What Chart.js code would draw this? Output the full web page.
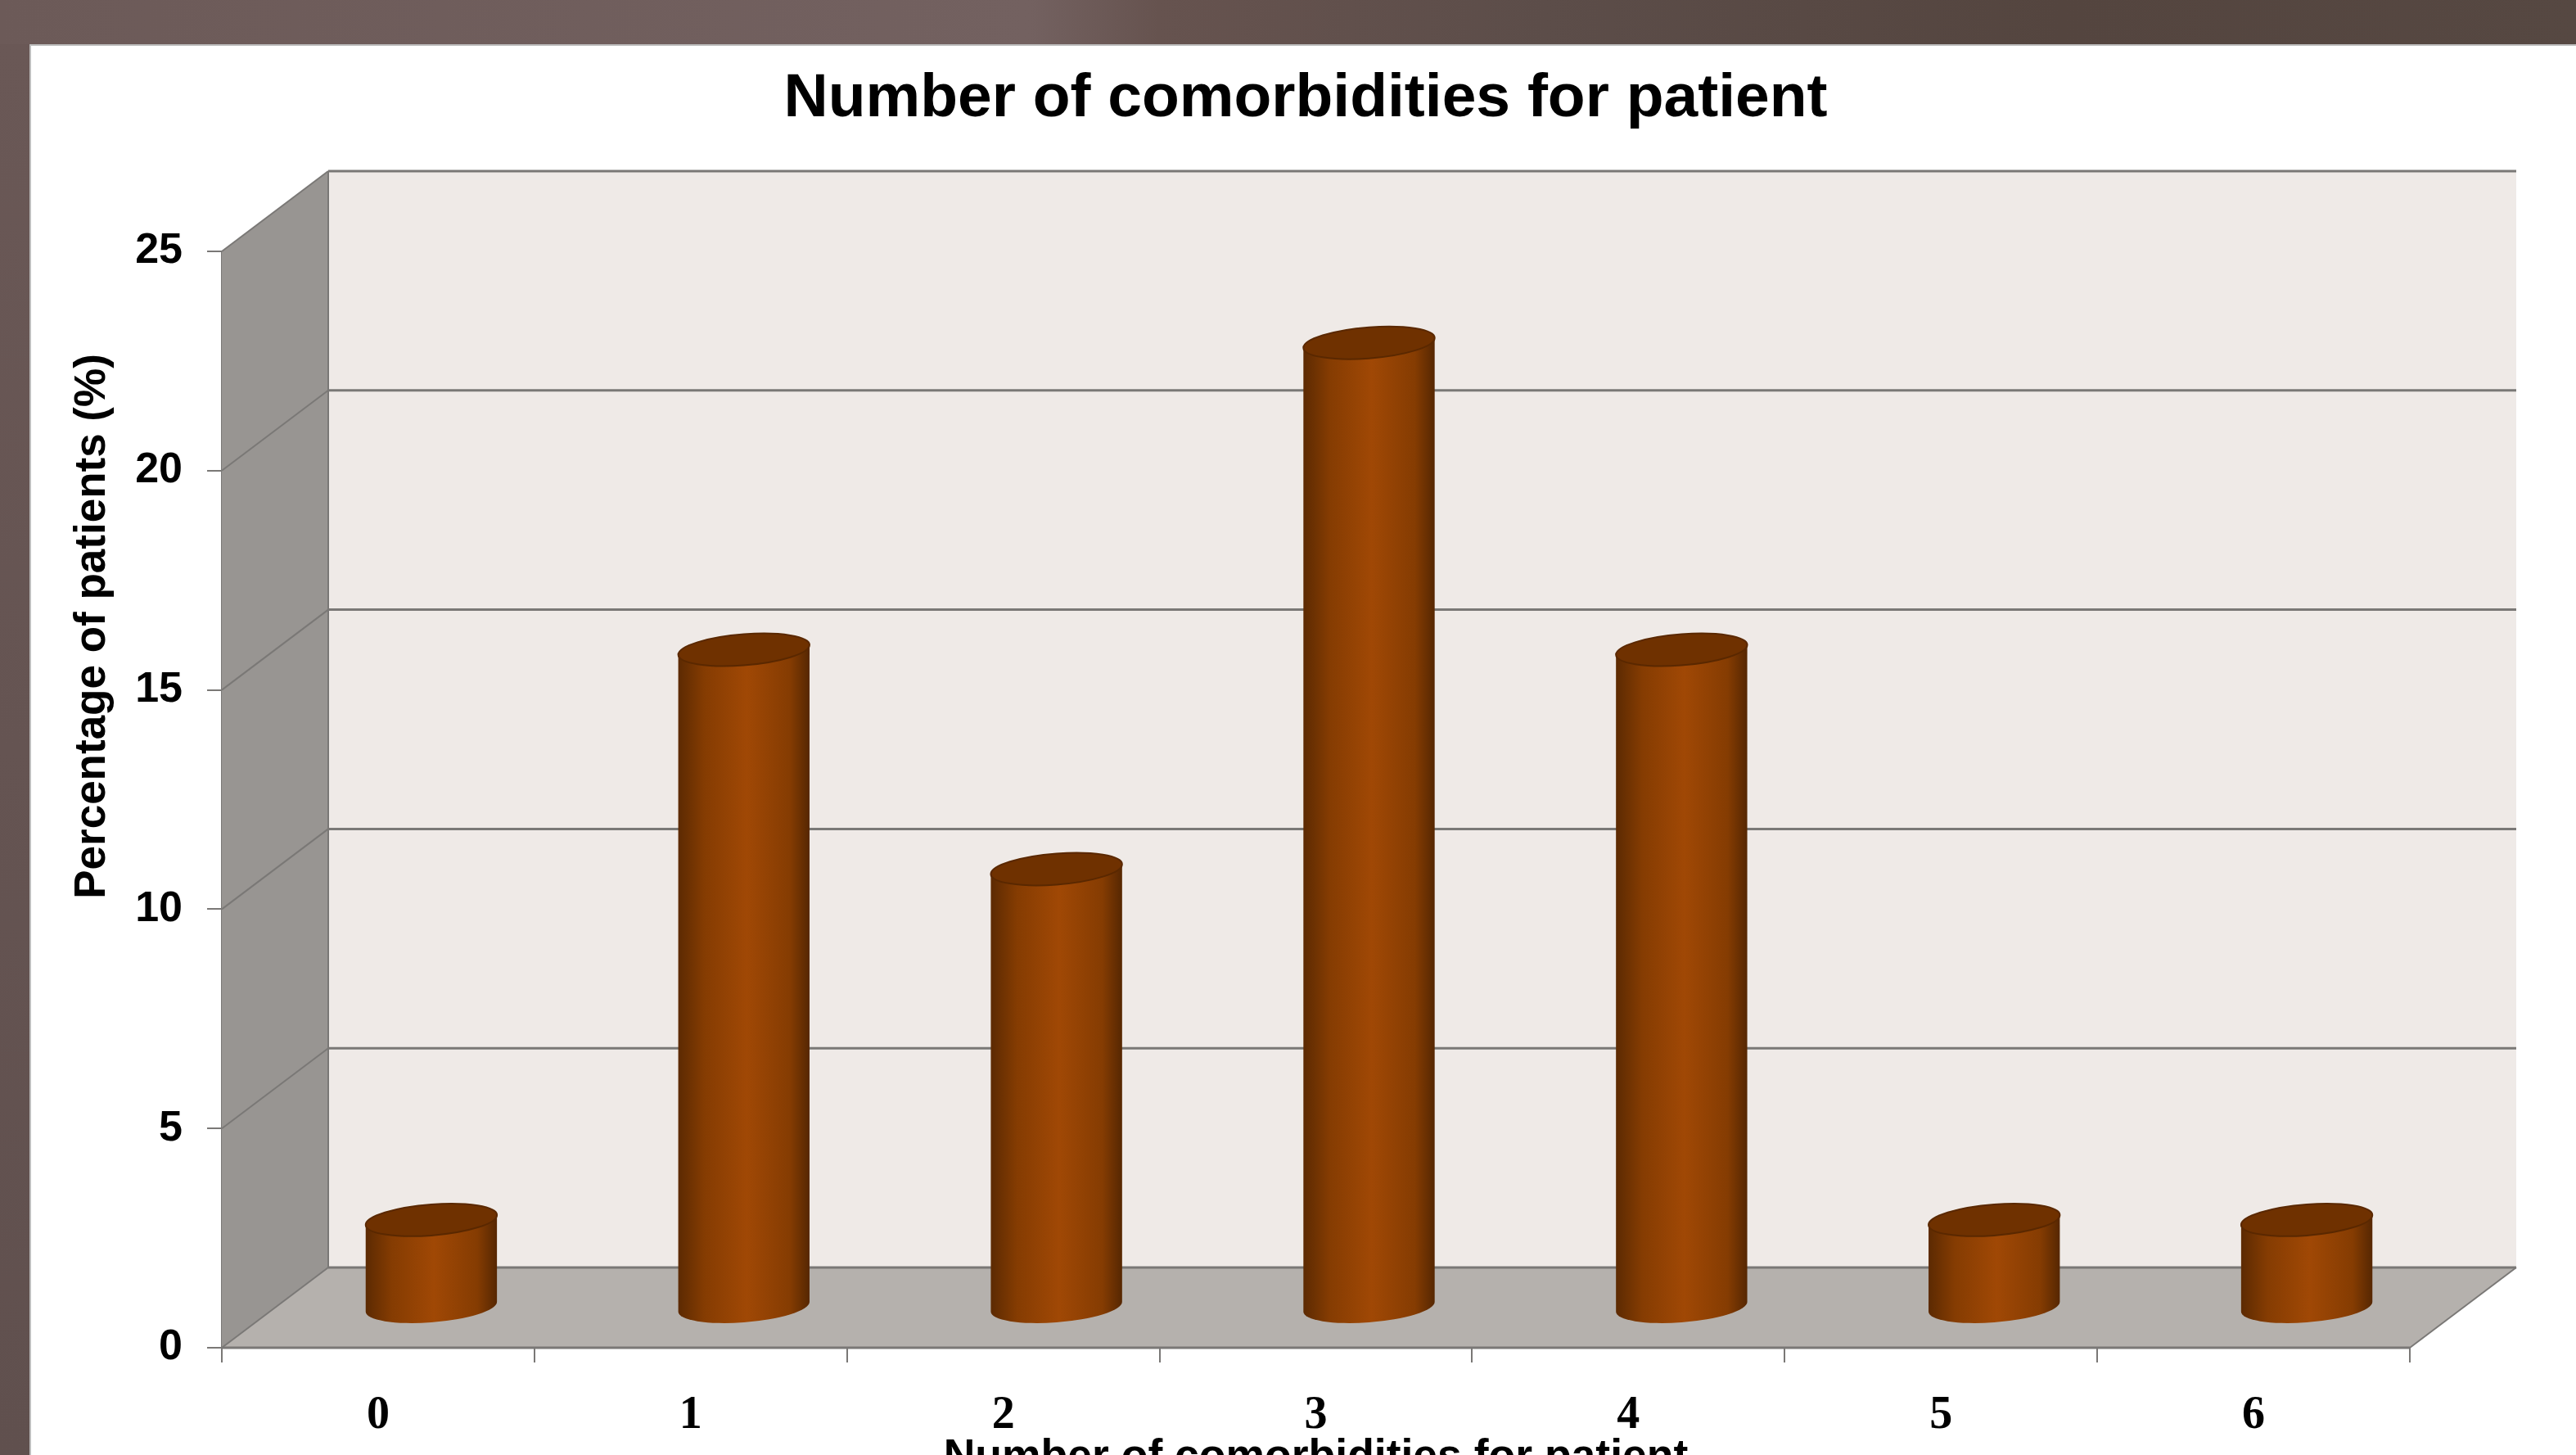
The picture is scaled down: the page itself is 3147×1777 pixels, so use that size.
<!DOCTYPE html>
<html>
<head>
<meta charset="utf-8">
<title>Number of comorbidities for patient</title>
<script src="https://cdn.jsdelivr.net/npm/chart.js@4"></script>
<style>
  html, body { margin: 0; height: 100%; overflow: hidden; }
  body {
    position: relative;
    background: linear-gradient(90deg, #6c5a58 0%, #736160 40%, #66534f 45%, #5c4d49 60%, #54453f 80%, #564842 100%);
  }
  #strip { position: absolute; left: 0; top: 54px; bottom: 0; width: 36px; background: linear-gradient(180deg, #6a5856, #60504e); }
  #panel { position: absolute; left: 36px; top: 54px; right: 0; bottom: 0; background: #fff; box-shadow: inset 2px 2px 0 #bdbdbd; overflow: hidden; }
  canvas { display: block; }
</style>
</head>
<body>
<div id="strip"></div>
<div id="panel"><canvas id="comorbidityChart" width="3118" height="1758"></canvas></div>
<script>
// share of patients by number of comorbidities
const categories = ["0", "1", "2", "3", "4", "5", "6"];
const patientShare = [2, 15, 10, 22, 15, 2, 2];
const yTicks = [0, 5, 10, 15, 20, 25];
const yTitle = "Percentage of patients (%)";

// how far the back wall sits behind the front plane
const depthX = 130;
const depthY = 98;
const tiltY = 6;
const capHalfHeight = 19;

const lineGray = "#7a7876";

// cylinder drawn in the middle of the box depth
class CylinderBar extends Chart.BarElement {
  static id = "cylinderBar";

  draw(ctx) {
    const a = this.width / 2;
    const cx = this.x + depthX / 2;
    const top = this.y - depthY / 2;
    const bottom = this.base - depthY / 2;

    const side = ctx.createLinearGradient(cx - a, 0, cx + a, 0);
    side.addColorStop(0, "#5c2a02");
    side.addColorStop(0.2, "#853c02");
    side.addColorStop(0.52, "#a04805");
    side.addColorStop(0.85, "#853c02");
    side.addColorStop(1, "#562702");

    ctx.save();
    ctx.fillStyle = side;
    ctx.beginPath();
    ctx.moveTo(cx - a, top + tiltY);
    ctx.lineTo(cx - a, bottom + tiltY);
    ctx.save();
    ctx.transform(1, -tiltY / a, 0, 1, cx, bottom);
    ctx.ellipse(0, 0, a, capHalfHeight, 0, Math.PI, 0, true);
    ctx.restore();
    ctx.lineTo(cx + a, top - tiltY);
    ctx.closePath();
    ctx.fill();

    ctx.save();
    ctx.transform(1, -tiltY / a, 0, 1, cx, top);
    ctx.beginPath();
    ctx.ellipse(0, 0, a, capHalfHeight, 0, 0, Math.PI * 2);
    ctx.restore();
    ctx.fillStyle = "#6f3100";
    ctx.strokeStyle = "#5a2800";
    ctx.lineWidth = 2;
    ctx.fill();
    ctx.stroke();
    ctx.restore();
  }
}

class CylinderController extends Chart.BarController {
  static id = "cylinder";
  static defaults = { dataElementType: "cylinderBar" };
}

Chart.register(CylinderBar, CylinderController);

function fillShape(ctx, points, color) {
  ctx.beginPath();
  points.forEach((p, i) => (i ? ctx.lineTo(p[0], p[1]) : ctx.moveTo(p[0], p[1])));
  ctx.closePath();
  ctx.fillStyle = color;
  ctx.fill();
}

function strokeLine(ctx, x1, y1, x2, y2) {
  ctx.beginPath();
  ctx.moveTo(x1, y1);
  ctx.lineTo(x2, y2);
  ctx.stroke();
}

// side wall, back wall and floor behind the plot area
const boxWalls = {
  id: "boxWalls",
  afterLayout(chart) {
    // keep the main title centred on the whole canvas, not on the padded box
    chart.titleBlock.left = 0;
    chart.titleBlock.right = chart.width;
  },
  beforeDatasetsDraw(chart) {
    const { ctx, chartArea: area, scales } = chart;
    const backLeft = area.left + depthX;
    const backRight = area.right + depthX;
    const backTop = area.top - depthY;
    const backBottom = area.bottom - depthY;

    ctx.save();
    fillShape(ctx, [[backLeft, backTop], [backRight, backTop], [backRight, backBottom], [backLeft, backBottom]], "#efeae7");
    fillShape(ctx, [[area.left, area.top], [backLeft, backTop], [backLeft, backBottom], [area.left, area.bottom]], "#989592");
    fillShape(ctx, [[area.left, area.bottom], [backLeft, backBottom], [backRight, backBottom], [area.right, area.bottom]], "#b5b1ad");

    ctx.strokeStyle = lineGray;
    yTicks.forEach((value) => {
      const y = scales.y.getPixelForValue(value);
      ctx.lineWidth = 2;
      strokeLine(ctx, area.left, y, backLeft, y - depthY);
      ctx.lineWidth = 3;
      strokeLine(ctx, backLeft, y - depthY, backRight, y - depthY);
    });
    ctx.lineWidth = 2;
    strokeLine(ctx, backLeft, backTop, backLeft, backBottom);
    strokeLine(ctx, area.right, area.bottom, backRight, backBottom);

    // axis line goes over the floor edge
    ctx.lineWidth = 3;
    strokeLine(ctx, area.left, area.bottom, area.right, area.bottom);
    ctx.restore();
  },
  afterDraw(chart) {
    // y axis title sits above the middle of the axis
    const { ctx } = chart;
    ctx.save();
    ctx.translate(77, 711);
    ctx.rotate(-Math.PI / 2);
    ctx.font = "bold 53px 'Liberation Sans'";
    ctx.fillStyle = "#000";
    ctx.textAlign = "center";
    ctx.textBaseline = "middle";
    ctx.fillText(yTitle, 0, 0);
    ctx.restore();
  },
};

new Chart("comorbidityChart", {
  type: "cylinder",
  data: {
    labels: categories,
    datasets: [
      {
        label: yTitle,
        data: patientShare,
        backgroundColor: "#a04805",
        barPercentage: 0.42,
        categoryPercentage: 1,
      },
    ],
  },
  plugins: [boxWalls],
  options: {
    responsive: false,
    animation: false,
    layout: { padding: { right: 210 } },
    plugins: {
      legend: { display: false },
      tooltip: { enabled: false },
      title: {
        display: true,
        text: "Number of comorbidities for patient",
        color: "#000",
        font: { size: 75, weight: "bold", family: "Liberation Sans", lineHeight: 1.2 },
        padding: { top: 22, bottom: 141 },
      },
    },
    scales: {
      x: {
        grid: { drawOnChartArea: false, color: lineGray, lineWidth: 2, tickLength: 18 },
        border: { display: true, color: lineGray, width: 2 },
        ticks: {
          color: "#000",
          padding: 32,
          maxRotation: 0,
          font: { size: 56, weight: "bold", family: "Liberation Serif" },
        },
        title: {
          display: true,
          text: "Number of comorbidities for patient",
          color: "#000",
          padding: { top: 0, bottom: 0 },
          font: { size: 53.5, weight: "bold", family: "Liberation Sans", lineHeight: 1.2 },
        },
        afterFit(scale) { scale.height = 166; },
      },
      y: {
        min: 0,
        max: 25,
        afterBuildTicks(scale) { scale.ticks = yTicks.map((value) => ({ value })); },
        grid: { drawOnChartArea: false, color: lineGray, lineWidth: 2, tickLength: 18 },
        border: { display: true, color: lineGray, width: 2 },
        ticks: {
          color: "#000",
          padding: 30,
          font: { size: 52, weight: "bold", family: "Liberation Sans" },
        },
        afterFit(scale) { scale.width = 235; },
      },
    },
  },
});
</script>
</body>
</html>
